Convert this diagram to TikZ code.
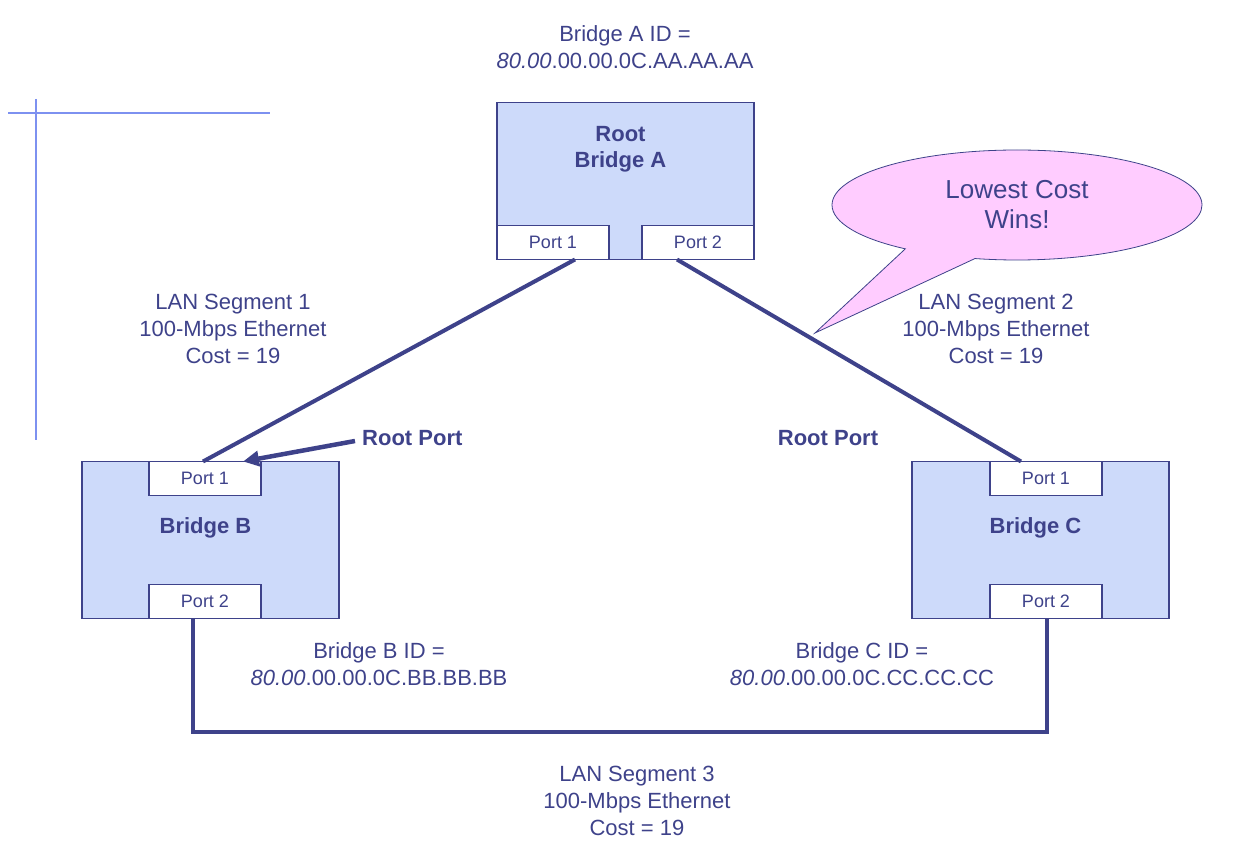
\documentclass[tikz,border=0pt]{standalone}
\usepackage{fontspec}
\setmainfont{Liberation Sans}
\usetikzlibrary{
    positioning, % posicionamento relativo dos nós
    arrows.meta, % pontas de seta
    shapes.geometric,
    shapes.callouts
}
\definecolor{netnavy}{RGB}{62,66,138}
\definecolor{bridgefill}{RGB}{205,218,250}
\definecolor{guideblue}{RGB}{125,145,240}
\definecolor{calloutpink}{RGB}{255,204,255}

\begin{document}
\begin{tikzpicture}[x=1pt, y=-1pt] % coordenadas em pixels, y para baixo

    % --- Estilos ---
    \tikzset{
        % caixa de cada bridge
        bridge_box/.style={
            draw=netnavy,
            fill=bridgefill,
            line width=1.5pt,
            minimum width=257pt,
            minimum height=157pt,
            inner sep=0pt,
            outer sep=0pt
        },
        % caixinhas das portas
        port_box/.style={
            draw=netnavy,
            fill=white,
            line width=1.5pt,
            minimum width=112pt,
            minimum height=34pt,
            inner sep=0pt,
            outer sep=0pt,
            text=netnavy,
            font=\fontsize{18}{20}\selectfont
        },
        bridge_name/.style={
            text=netnavy,
            font=\fontsize{22}{26}\selectfont\bfseries,
            align=center,
            inner sep=0pt
        },
        info_text/.style={
            text=netnavy,
            font=\fontsize{22}{27}\selectfont,
            align=center,
            inner sep=0pt
        },
        lan_link/.style={
            draw=netnavy,
            line width=4pt
        },
        root_arrow/.style={
            -{Triangle[length=16pt,width=15pt]},
            draw=netnavy,
            line width=4.5pt
        },
        guide_line/.style={
            draw=guideblue,
            line width=1.5pt
        }
    }

    \useasboundingbox (0,0) rectangle (1243,850);

    % --- Linhas-guia no canto ---
    \draw[guide_line] (8,113) -- (270,113);
    \draw[guide_line] (36,99) -- (36,440);

    % --- Bridges ---
    \node[bridge_box] (bridgeA) at (625.5,181) {};
    \node[bridge_box] (bridgeB) at (210.5,540) {};
    \node[bridge_box] (bridgeC) at (1040.5,540) {};

    % --- Portas ---
    \node[port_box, above right=0pt of bridgeA.south west] (portA1) {Port 1};
    \node[port_box, above left=0pt of bridgeA.south east] (portA2) {Port 2};
    \node[port_box, below right=0pt and 67pt of bridgeB.north west] (portB1) {Port 1};
    \node[port_box, above right=0pt and 67pt of bridgeB.south west] (portB2) {Port 2};
    \node[port_box, below left=0pt and 67pt of bridgeC.north east] (portC1) {Port 1};
    \node[port_box, above left=0pt and 67pt of bridgeC.south east] (portC2) {Port 2};

    % --- Nomes ---
    \node[bridge_name, below=24pt of bridgeA.north, xshift=-5pt] (nameA) {Root\\Bridge A};
    \node[bridge_name] (nameB) at ([shift={(-5pt,12pt)}]bridgeB.center) {Bridge B};
    \node[bridge_name] (nameC) at ([shift={(-5pt,12pt)}]bridgeC.center) {Bridge C};

    % --- Balão ---
    \node[ellipse callout, draw=netnavy, fill=calloutpink, line width=0.8pt,
          minimum width=370pt, minimum height=110pt, inner sep=0pt,
          callout absolute pointer={(815,333)}, callout pointer arc=24,
          text=netnavy, font=\fontsize{26}{30}\selectfont, align=center]
          (wins) at (1017,205) {Lowest Cost\\Wins!};

    % --- Textos ---
    \node[info_text] (idA) at (625,47) {Bridge A ID =\\\textit{80.00}.00.00.0C.AA.AA.AA};
    \node[info_text] (lan1) at (233,329) {LAN Segment 1\\100-Mbps Ethernet\\Cost = 19};
    \node[info_text] (lan2) at (996,329) {LAN Segment 2\\100-Mbps Ethernet\\Cost = 19};
    \node[info_text] (idB) at (379,664) {Bridge B ID =\\\textit{80.00}.00.00.0C.BB.BB.BB};
    \node[info_text] (idC) at (862,664) {Bridge C ID =\\\textit{80.00}.00.00.0C.CC.CC.CC};
    \node[info_text] (lan3) at (637,801) {LAN Segment 3\\100-Mbps Ethernet\\Cost = 19};
    \node[bridge_name, anchor=west] (rootB) at (362,438) {Root Port};
    \node[bridge_name] (rootC) at (828,438) {Root Port};

    % --- Segmentos de LAN ---
    \draw[lan_link] ([xshift=22pt]portA1.south) -- ([xshift=-2pt]portB1.north);
    \draw[lan_link] ([xshift=-21pt]portA2.south) -- ([xshift=-25pt]portC1.north);
    \draw[lan_link] ([xshift=-12pt]portB2.south) -- ++(0,113) -| ([xshift=1pt]portC2.south);

    % --- Seta da porta raiz ---
    \draw[root_arrow] ([shift={(-7pt,-3pt)}]rootB.west) -- ([xshift=-18pt]portB1.north east);

\end{tikzpicture}
\end{document}
